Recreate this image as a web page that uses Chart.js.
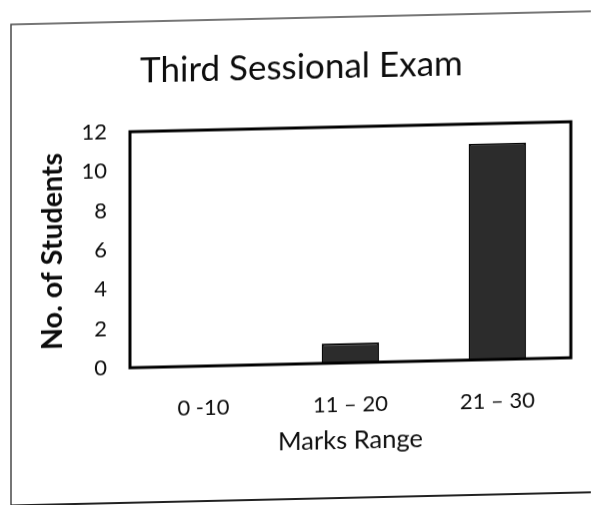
<!DOCTYPE html>
<html>
<head>
<meta charset="utf-8">
<title>Third Sessional Exam</title>
<script src="https://cdn.jsdelivr.net/npm/chart.js@4/dist/chart.umd.min.js"></script>
<style>
  html, body { margin: 0; padding: 0; background: #fff; }
  #wrap {
    position: relative;
    width: 591px;
    height: 505px;
    transform: skewY(-1.3deg);
    transform-origin: 50% 50%;
  }
</style>
</head>
<body>
<div id="wrap"><canvas id="chart"></canvas></div>
<script>
// Marks distribution for the third sessional exam
const categories = ['0 -10', '11 \u2013 20', '21 \u2013 30'];
const students = [0, 1, 11];
const yTicks = [0, 2, 4, 6, 8, 10, 12];

const FONT = 'Lato, "Open Sans", sans-serif';
const INK = '#0d0d0d';

// Paper border plus the heavy frame around the plotting area
const framePlugin = {
  id: 'frame',
  beforeDraw(chart) {
    const ctx = chart.ctx;
    ctx.save();
    ctx.fillStyle = '#ffffff';
    ctx.fillRect(0, 0, chart.width, chart.height);
    ctx.strokeStyle = '#4a4a4a';
    ctx.lineWidth = 1.5;
    ctx.beginPath();
    ctx.moveTo(11, chart.height + 5);
    ctx.lineTo(11, 18);
    ctx.lineTo(chart.width + 5, 18);
    ctx.stroke();
    ctx.strokeStyle = '#222';
    ctx.lineWidth = 2;
    ctx.beginPath();
    ctx.moveTo(11, 499);
    ctx.lineTo(chart.width + 5, 499);
    ctx.stroke();
    ctx.restore();
  },
  afterDatasetsDraw(chart) {
    const a = chart.chartArea;
    const ctx = chart.ctx;
    ctx.save();
    ctx.strokeStyle = '#000';
    ctx.lineWidth = 3;
    ctx.strokeRect(a.left, a.top, a.right - a.left, a.bottom - a.top);
    ctx.restore();
  }
};

new Chart(document.getElementById('chart'), {
  type: 'bar',
  data: {
    labels: categories,
    datasets: [{
      label: 'No. of Students',
      data: students,
      backgroundColor: '#2c2c2c',
      borderColor: '#050505',
      borderWidth: 2,
      barPercentage: 0.39,
      categoryPercentage: 1.0
    }]
  },
  options: {
    responsive: true,
    maintainAspectRatio: false,
    animation: false,
    devicePixelRatio: 1,
    layout: { padding: { left: 32, right: 20, top: 0, bottom: 44 } },
    plugins: {
      legend: { display: false },
      tooltip: { enabled: false },
      title: {
        display: true,
        text: 'Third Sessional Exam',
        color: INK,
        font: { family: FONT, size: 35, weight: 'normal', lineHeight: 1.2 },
        padding: { top: 47, bottom: 39 }
      }
    },
    scales: {
      x: {
        grid: { display: false, drawTicks: false },
        border: { display: false },
        ticks: { color: INK, font: { family: FONT, size: 22 }, padding: 29, maxRotation: 0 },
        title: {
          display: true,
          text: 'Marks Range',
          color: INK,
          font: { family: FONT, size: 25.5, lineHeight: 1.2 },
          padding: { top: 4, bottom: 4 }
        },
        afterFit(scale) { scale.height = 97; }
      },
      y: {
        min: 0,
        max: 12,
        afterBuildTicks(scale) { scale.ticks = yTicks.map(v => ({ value: v })); },
        grid: { display: false, drawTicks: false },
        border: { display: false },
        ticks: { color: INK, font: { family: FONT, size: 22 }, padding: 23 },
        title: {
          display: true,
          text: 'No. of Students',
          color: INK,
          font: { family: FONT, size: 28.5, weight: 'bold', lineHeight: 1.2 },
          padding: { top: 4, bottom: 4 }
        },
        afterFit(scale) { scale.width = 98; }
      }
    }
  },
  plugins: [framePlugin]
});
</script>
</body>
</html>
